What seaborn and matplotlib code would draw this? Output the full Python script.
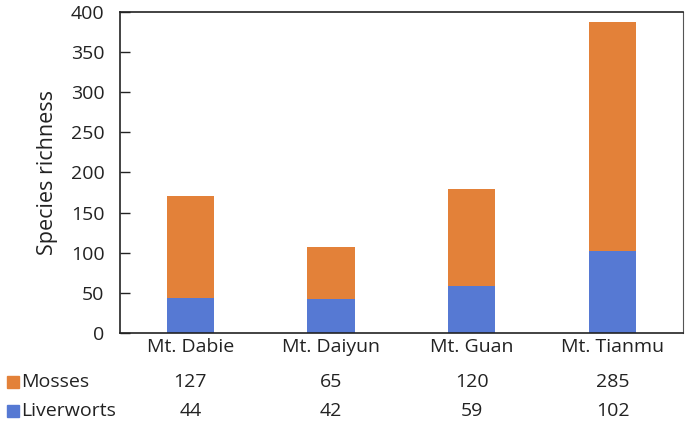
import pandas as pd
import seaborn as sns
import matplotlib.pyplot as plt
from matplotlib.transforms import blended_transform_factory
from matplotlib.patches import Rectangle

sites = ["Mt. Dabie", "Mt. Daiyun", "Mt. Guan", "Mt. Tianmu"]
mosses = [127, 65, 120, 285]
liverworts = [44, 42, 59, 102]
y_ticks = [0, 50, 100, 150, 200, 250, 300, 350, 400]

orange = "#E38139"
blue = "#5679D3"

sns.set_theme(style="white")
plt.rcParams['font.family'] = ['Open Sans', 'DejaVu Sans']

df = pd.DataFrame({"site": sites, "Mosses": mosses, "Liverworts": liverworts})
df["total"] = df["Mosses"] + df["Liverworts"]

fig = plt.figure(figsize=(6.85, 4.23), dpi=100)
ax = fig.add_axes([0.175, 0.213, 0.822, 0.759])

# stacked: total first (orange), liverworts on top of it from the bottom (blue)
sns.barplot(data=df, x="site", y="total", color=orange, width=0.335,
            saturation=1, linewidth=0, ax=ax)
sns.barplot(data=df, x="site", y="Liverworts", color=blue, width=0.335,
            saturation=1, linewidth=0, ax=ax)

ax.set_ylim(0, 400)
ax.set_yticks(y_ticks)
ax.set_xlim(-0.5, len(sites) - 0.5)
ax.set_ylabel("Species richness", fontsize=15.5, color="#222222", labelpad=9.5)
ax.set_xlabel("")
ax.tick_params(axis="y", direction="in", length=7, width=1, labelsize=14,
               colors="#222222", pad=11, left=True)
ax.tick_params(axis="x", length=0, labelsize=14, labelcolor="#222222", pad=4)
for s in ax.spines.values():
    s.set_color("#222222")
    s.set_linewidth(1.2)
ax.spines["right"].set_color("#555555")
ax.spines["right"].set_linewidth(0.8)

# data table below the chart
trans = blended_transform_factory(ax.transData, fig.transFigure)
rows = [("Mosses", mosses, orange, 1 - 382 / 423),
        ("Liverworts", liverworts, blue, 1 - 411 / 423)]
for name, vals, col, yy in rows:
    fig.patches.append(Rectangle((7 / 685, yy - 6 / 423), 12 / 685, 12 / 423,
                                 transform=fig.transFigure, color=col))
    fig.text(21 / 685, yy, name, fontsize=14, va="center", ha="left",
             color="#222222")
    for i, v in enumerate(vals):
        ax.text(i, yy, str(v), transform=trans, fontsize=14, va="center",
                ha="center", color="#222222", clip_on=False)

fig.savefig("out.png", dpi=100)
